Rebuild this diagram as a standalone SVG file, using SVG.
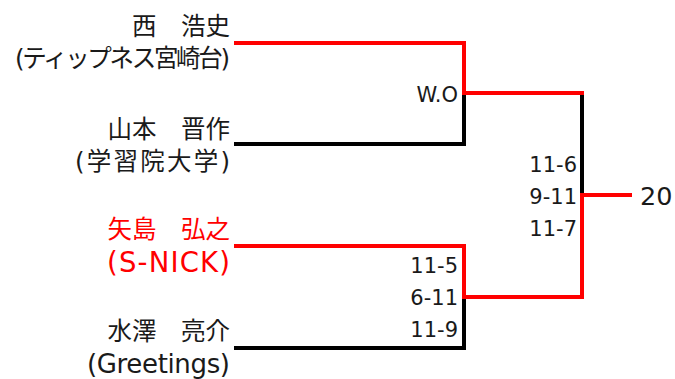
<svg xmlns="http://www.w3.org/2000/svg" width="675" height="379" viewBox="0 0 675 379">
<style>
.name{font-family:"DejaVu Sans","Noto Sans CJK JP",sans-serif;font-size:24.5px;text-anchor:end;fill:#1a1a1a}
.lat{font-size:26px}
.big{font-size:27.5px}
.win{fill:#ff0000}
.score{font-family:"DejaVu Sans",sans-serif;font-size:21px;text-anchor:end;fill:#1a1a1a}
.final{font-family:"DejaVu Sans",sans-serif;font-size:25.5px;fill:#1a1a1a}
.lk{fill:none;stroke:#000;stroke-width:4;stroke-linecap:square}
.lr{fill:none;stroke:#ff0000;stroke-width:4;stroke-linecap:square}
</style>
<rect width="675" height="379" fill="#fff"/>
<g id="connectors">
<path class="lk" d="M236,144H464V93"/>
<path class="lk" d="M236,348H464V297"/>
<path class="lk" d="M582,93V195"/>
<path class="lr" d="M236,43H464V93H582"/>
<path class="lr" d="M236,246H464V297H582V195H630"/>
<text class="score" x="458" y="102">W.O</text>
<text class="score" x="458" y="273">11-5</text>
<text class="score" x="458" y="305">6-11</text>
<text class="score" x="458" y="337">11-9</text>
<text class="score" x="577" y="172">11-6</text>
<text class="score" x="577" y="204">9-11</text>
<text class="score" x="577" y="236">11-7</text>
</g>
<g id="player1">
<text class="name" x="230" y="35">西　浩史</text>
<text class="name" x="230" y="67" textLength="215">(ティップネス宮崎台)</text>
</g>
<g id="player2">
<text class="name" x="230" y="138">山本　晋作</text>
<text class="name" x="230" y="170" textLength="155">(学習院大学)</text>
</g>
<g id="player3">
<text class="name win" x="230" y="238">矢島　弘之</text>
<text class="name big win" x="230" y="272" textLength="123">(S-NICK)</text>
</g>
<g id="player4">
<text class="name" x="230" y="340">水澤　亮介</text>
<text class="name lat" x="230" y="373" textLength="143">(Greetings)</text>
</g>
<g id="result">
<text class="final" x="640" y="205">20</text>
</g>
</svg>
